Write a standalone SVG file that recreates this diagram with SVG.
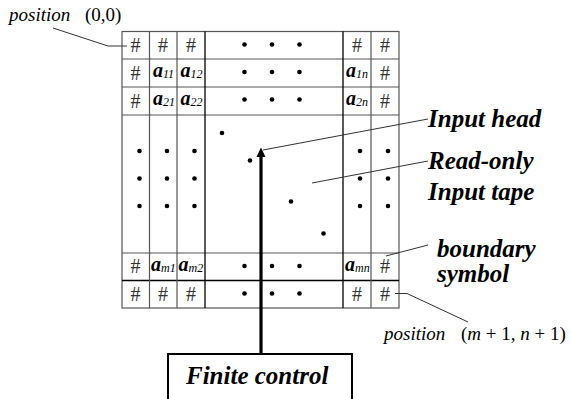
<svg xmlns="http://www.w3.org/2000/svg" width="570" height="399" viewBox="0 0 570 399">
<style>
.g{stroke:#555;stroke-width:1.2;fill:none}
.k{stroke:#000;stroke-width:1.3;fill:none}
.lead{stroke:#333;stroke-width:1;fill:none}
text{font-family:'Liberation Serif','Times New Roman','DejaVu Serif',serif}
.h{font-size:20px;fill:#333;text-anchor:middle}
.a{font-size:20px;font-style:italic;font-weight:bold;fill:#000}
.s{font-size:12px;font-weight:normal}
.si{font-size:12px;font-weight:normal;font-style:italic}
.lab{font-size:25px;font-style:italic;font-weight:bold;fill:#000}
.pos{font-size:19px;fill:#000}
.it{font-style:italic}
.dot{fill:#000}
</style>
<g id="tape">
<rect x="122" y="31.5" width="277" height="276.5" class="g"/>
<line x1="122" y1="59" x2="399" y2="59" class="g"/>
<line x1="122" y1="87" x2="399" y2="87" class="g"/>
<line x1="122" y1="115" x2="399" y2="115" class="g"/>
<line x1="122" y1="253" x2="399" y2="253" class="g"/>
<line x1="122" y1="280.5" x2="399" y2="280.5" class="k"/>
<line x1="149.5" y1="31.5" x2="149.5" y2="308" class="g"/>
<line x1="177" y1="31.5" x2="177" y2="308" class="g"/>
<line x1="205" y1="31.5" x2="205" y2="308" class="k"/>
<line x1="343" y1="31.5" x2="343" y2="308" class="k"/>
<line x1="371" y1="31.5" x2="371" y2="308" class="g"/>
</g>
<g id="cells">
<text class="h" x="135.5" y="52">#</text>
<text class="h" x="163" y="52">#</text>
<text class="h" x="191" y="52">#</text>
<text class="h" x="357" y="52">#</text>
<text class="h" x="385" y="52">#</text>
<text class="h" x="135.5" y="79.5">#</text>
<text class="h" x="385" y="79.5">#</text>
<text class="h" x="135.5" y="107.5">#</text>
<text class="h" x="385" y="107.5">#</text>
<text class="a" x="153" y="77">a<tspan class="s" dy="1">11</tspan></text>
<text class="a" x="180.5" y="77">a<tspan class="s" dy="1">12</tspan></text>
<text class="a" x="346" y="77">a<tspan class="s" dy="1">1</tspan><tspan class="si">n</tspan></text>
<text class="a" x="153" y="105">a<tspan class="s" dy="1">21</tspan></text>
<text class="a" x="180.5" y="105">a<tspan class="s" dy="1">22</tspan></text>
<text class="a" x="346" y="105">a<tspan class="s" dy="1">2</tspan><tspan class="si">n</tspan></text>
<text class="h" x="135.5" y="273">#</text>
<text class="a" x="151" y="271">a<tspan class="si" dy="1">m</tspan><tspan class="s">1</tspan></text>
<text class="a" x="178.5" y="271">a<tspan class="si" dy="1">m</tspan><tspan class="s">2</tspan></text>
<text class="a" x="345" y="271">a<tspan class="si" dy="1">mn</tspan></text>
<text class="h" x="385" y="273">#</text>
<text class="h" x="135.5" y="300.5">#</text>
<text class="h" x="163" y="300.5">#</text>
<text class="h" x="191" y="300.5">#</text>
<text class="h" x="357" y="300.5">#</text>
<text class="h" x="385" y="300.5">#</text>
</g>
<g id="dots" class="dot">
<circle cx="244.5" cy="44.5" r="2.3"/><circle cx="272" cy="44.5" r="2.3"/><circle cx="299.5" cy="44.5" r="2.3"/>
<circle cx="244.5" cy="72" r="2.3"/><circle cx="272" cy="72" r="2.3"/><circle cx="299.5" cy="72" r="2.3"/>
<circle cx="244.5" cy="99.5" r="2.3"/><circle cx="272" cy="99.5" r="2.3"/><circle cx="299.5" cy="99.5" r="2.3"/>
<circle cx="139.5" cy="151" r="2.3"/><circle cx="167" cy="151" r="2.3"/><circle cx="194.5" cy="151" r="2.3"/>
<circle cx="139.5" cy="178.5" r="2.3"/><circle cx="167" cy="178.5" r="2.3"/><circle cx="194.5" cy="178.5" r="2.3"/>
<circle cx="139.5" cy="206" r="2.3"/><circle cx="167" cy="206" r="2.3"/><circle cx="194.5" cy="206" r="2.3"/>
<circle cx="360" cy="151" r="2.3"/><circle cx="388" cy="151" r="2.3"/>
<circle cx="360" cy="178.5" r="2.3"/><circle cx="388" cy="178.5" r="2.3"/>
<circle cx="360" cy="206" r="2.3"/><circle cx="388" cy="206" r="2.3"/>
<circle cx="222" cy="133" r="2.3"/><circle cx="250" cy="160.5" r="2.3"/><circle cx="291" cy="201.5" r="2.3"/><circle cx="323.5" cy="233.5" r="2.3"/>
<circle cx="244.5" cy="266" r="2.3"/><circle cx="272" cy="266" r="2.3"/><circle cx="299.5" cy="266" r="2.3"/>
<circle cx="244.5" cy="293.5" r="2.3"/><circle cx="272" cy="293.5" r="2.3"/><circle cx="299.5" cy="293.5" r="2.3"/>
</g>
<g id="control">
<rect x="168" y="354" width="184" height="60" fill="#fff" stroke="#000" stroke-width="2"/>
<text class="lab" x="186" y="384">Finite control</text>
</g>
<g id="connectors">
<line x1="261" y1="354" x2="261" y2="156" stroke="#000" stroke-width="3.2"/>
<polygon points="261,147.5 256.5,157 265.5,157" fill="#000"/>
<polyline class="lead" points="53,28 108,46 127,46"/>
<line class="lead" x1="263" y1="150" x2="428" y2="119"/>
<line class="lead" x1="312" y1="183" x2="428" y2="161"/>
<line class="lead" x1="428" y1="245" x2="386" y2="256"/>
<polyline class="lead" points="395,293.5 407,293.5 468,322"/>
</g>
<g id="labels">
<text class="lab" x="428" y="127">Input head</text>
<text class="lab" x="428" y="169">Read-only</text>
<text class="lab" x="428" y="200">Input tape</text>
<text class="lab" x="437" y="257">boundary</text>
<text class="lab" x="437" y="282">symbol</text>
<text class="pos" x="9" y="21"><tspan class="it">position</tspan></text>
<text class="pos" x="85" y="21">(0,0)</text>
<text class="pos" x="384" y="340"><tspan class="it">position</tspan></text>
<text class="pos" x="461" y="340">(<tspan class="it">m</tspan> + 1, <tspan class="it">n</tspan> + 1)</text>
</g>
</svg>
